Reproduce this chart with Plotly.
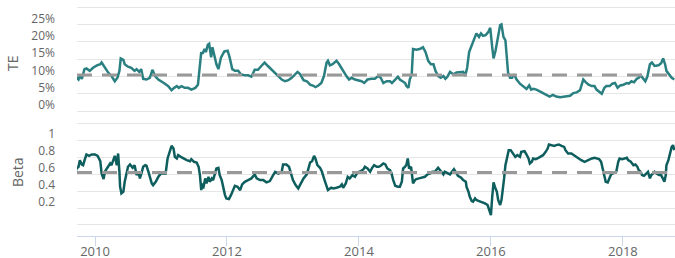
import plotly.graph_objects as go

te_years = [2009.70, 2009.75, 2009.77, 2009.80, 2009.84, 2009.87, 2009.92, 2009.97, 2010.03, 2010.08,
            2010.10, 2010.15, 2010.20, 2010.25, 2010.30, 2010.34, 2010.37, 2010.39, 2010.43, 2010.45,
            2010.50, 2010.55, 2010.60, 2010.63, 2010.67, 2010.70, 2010.73, 2010.78, 2010.83, 2010.87,
            2010.91, 2010.96, 2011.01, 2011.06, 2011.11, 2011.16, 2011.20, 2011.24, 2011.27, 2011.31,
            2011.36, 2011.41, 2011.46, 2011.52, 2011.56, 2011.58, 2011.61, 2011.63, 2011.66, 2011.68,
            2011.71, 2011.73, 2011.76, 2011.78, 2011.81, 2011.84, 2011.87, 2011.91, 2011.96, 2012.01,
            2012.04, 2012.08, 2012.12, 2012.17, 2012.21, 2012.27, 2012.32, 2012.37, 2012.42, 2012.47,
            2012.52, 2012.57, 2012.62, 2012.68, 2012.73, 2012.78, 2012.83, 2012.88, 2012.93, 2012.98,
            2013.03, 2013.07, 2013.11, 2013.16, 2013.21, 2013.26, 2013.31, 2013.34, 2013.38, 2013.43,
            2013.47, 2013.51, 2013.53, 2013.56, 2013.60, 2013.63, 2013.66, 2013.70, 2013.74, 2013.78,
            2013.81, 2013.85, 2013.89, 2013.94, 2013.99, 2014.04, 2014.08, 2014.13, 2014.19, 2014.24,
            2014.29, 2014.33, 2014.37, 2014.42, 2014.47, 2014.50, 2014.55, 2014.59, 2014.62, 2014.67,
            2014.70, 2014.72, 2014.75, 2014.77, 2014.80, 2014.82, 2014.87, 2014.92, 2014.97, 2015.01,
            2015.05, 2015.09, 2015.13, 2015.16, 2015.20, 2015.24, 2015.28, 2015.31, 2015.34, 2015.38,
            2015.43, 2015.48, 2015.53, 2015.58, 2015.61, 2015.64, 2015.67, 2015.71, 2015.75, 2015.78,
            2015.82, 2015.85, 2015.88, 2015.92, 2015.96, 2015.99, 2016.02, 2016.04, 2016.07, 2016.11,
            2016.14, 2016.16, 2016.19, 2016.22, 2016.24, 2016.26, 2016.29, 2016.32, 2016.35, 2016.39,
            2016.44, 2016.49, 2016.54, 2016.58, 2016.61, 2016.64, 2016.69, 2016.74, 2016.79, 2016.84,
            2016.89, 2016.94, 2016.99, 2017.05, 2017.10, 2017.15, 2017.20, 2017.25, 2017.30, 2017.35,
            2017.37, 2017.40, 2017.44, 2017.48, 2017.53, 2017.57, 2017.60, 2017.64, 2017.68, 2017.72,
            2017.75, 2017.80, 2017.84, 2017.88, 2017.92, 2017.96, 2018.01, 2018.06, 2018.09, 2018.13,
            2018.17, 2018.21, 2018.24, 2018.27, 2018.31, 2018.34, 2018.37, 2018.41, 2018.44, 2018.48,
            2018.54, 2018.58, 2018.61, 2018.64, 2018.66, 2018.70, 2018.74, 2018.78]
te_values = [10.1, 9.1, 10.1, 9.3, 12.1, 12.3, 11.6, 12.5, 13.2, 13.5,
             14.0, 12.5, 11.1, 10.1, 8.6, 9.6, 11.6, 15.2, 14.8, 13.5,
             12.8, 12.5, 11.6, 12.1, 11.3, 12.1, 9.3, 9.1, 9.6, 11.9,
             10.1, 9.1, 8.6, 7.9, 7.2, 6.0, 6.7, 7.2, 6.7, 7.2,
             6.7, 6.7, 6.2, 6.7, 7.6, 12.1, 17.0, 16.5, 17.9, 17.0,
             19.1, 19.4, 15.5, 18.4, 16.0, 13.5, 12.1, 15.5, 17.2, 17.4,
             15.5, 12.1, 11.6, 11.6, 10.6, 10.3, 10.3, 9.9, 11.9, 11.9,
             13.0, 14.0, 13.0, 11.9, 11.1, 10.1, 9.1, 8.6, 8.9, 9.6,
             10.6, 11.3, 10.6, 8.9, 8.6, 7.6, 7.3, 6.9, 7.3, 8.1,
             10.1, 14.0, 14.5, 13.2, 13.5, 14.0, 14.5, 13.5, 12.1, 11.1,
             10.1, 9.1, 9.6, 9.1, 8.9, 8.6, 8.1, 9.1, 9.3, 9.3,
             10.1, 9.6, 8.1, 8.6, 8.6, 8.1, 9.1, 9.9, 9.1, 8.6,
             8.1, 7.2, 6.7, 9.1, 10.6, 17.9, 17.7, 17.9, 18.4, 17.0,
             14.5, 13.5, 13.5, 11.6, 10.1, 9.6, 10.1, 9.3, 9.9, 11.3,
             10.6, 11.1, 11.1, 11.3, 10.1, 12.5, 17.0, 18.9, 20.4, 22.4,
             21.4, 22.4, 21.7, 21.9, 22.8, 24.0, 18.4, 15.2, 17.4, 22.4,
             24.8, 25.0, 21.4, 20.4, 15.0, 11.1, 9.6, 9.6, 10.6, 9.1,
             7.9, 7.2, 6.4, 7.4, 6.2, 6.4, 6.2, 5.7, 5.2, 4.7,
             4.2, 4.7, 4.2, 4.0, 4.2, 4.4, 4.4, 5.2, 5.4, 6.0,
             7.6, 9.1, 8.3, 7.6, 7.2, 7.2, 6.2, 5.7, 5.0, 6.7,
             7.2, 7.2, 7.9, 8.1, 6.7, 7.4, 7.6, 8.1, 7.9, 8.6,
             8.3, 9.3, 9.6, 10.3, 9.3, 8.6, 9.9, 13.5, 14.0, 13.0,
             13.2, 13.8, 15.2, 13.5, 11.6, 10.6, 9.6, 9.1]

beta_years = [2009.70, 2009.72, 2009.75, 2009.77, 2009.80, 2009.82, 2009.85, 2009.87, 2009.91, 2009.95,
              2010.00, 2010.04, 2010.08, 2010.10, 2010.13, 2010.15, 2010.18, 2010.20, 2010.23, 2010.25,
              2010.28, 2010.30, 2010.33, 2010.35, 2010.37, 2010.38, 2010.40, 2010.43, 2010.45, 2010.48,
              2010.50, 2010.53, 2010.57, 2010.60, 2010.63, 2010.66, 2010.68, 2010.71, 2010.73, 2010.76,
              2010.78, 2010.81, 2010.83, 2010.86, 2010.88, 2010.92, 2010.96, 2011.00, 2011.04, 2011.07,
              2011.10, 2011.14, 2011.16, 2011.19, 2011.21, 2011.24, 2011.26, 2011.30, 2011.34, 2011.39,
              2011.44, 2011.46, 2011.50, 2011.54, 2011.57, 2011.59, 2011.61, 2011.63, 2011.64, 2011.67,
              2011.69, 2011.72, 2011.74, 2011.77, 2011.79, 2011.82, 2011.84, 2011.87, 2011.89, 2011.92,
              2011.94, 2011.97, 2011.99, 2012.03, 2012.06, 2012.10, 2012.12, 2012.16, 2012.20, 2012.23,
              2012.27, 2012.32, 2012.37, 2012.42, 2012.45, 2012.50, 2012.55, 2012.60, 2012.65, 2012.70,
              2012.73, 2012.78, 2012.83, 2012.85, 2012.90, 2012.94, 2012.97, 2013.00, 2013.04, 2013.08,
              2013.12, 2013.16, 2013.21, 2013.23, 2013.26, 2013.29, 2013.32, 2013.34, 2013.37, 2013.41,
              2013.44, 2013.47, 2013.51, 2013.53, 2013.58, 2013.61, 2013.66, 2013.71, 2013.74, 2013.76,
              2013.80, 2013.83, 2013.86, 2013.90, 2013.94, 2013.96, 2014.00, 2014.03, 2014.07, 2014.09,
              2014.13, 2014.17, 2014.20, 2014.23, 2014.27, 2014.30, 2014.33, 2014.37, 2014.40, 2014.43,
              2014.47, 2014.49, 2014.52, 2014.55, 2014.59, 2014.62, 2014.65, 2014.67, 2014.70, 2014.72,
              2014.74, 2014.76, 2014.79, 2014.81, 2014.82, 2014.85, 2014.87, 2014.91, 2014.95, 2015.00,
              2015.04, 2015.08, 2015.11, 2015.15, 2015.20, 2015.23, 2015.25, 2015.28, 2015.30, 2015.34,
              2015.38, 2015.41, 2015.44, 2015.48, 2015.50, 2015.55, 2015.58, 2015.62, 2015.63, 2015.66,
              2015.68, 2015.71, 2015.73, 2015.76, 2015.78, 2015.82, 2015.85, 2015.88, 2015.91, 2015.95,
              2015.99, 2016.00, 2016.02, 2016.04, 2016.06, 2016.09, 2016.11, 2016.14, 2016.16, 2016.19,
              2016.20, 2016.22, 2016.25, 2016.27, 2016.30, 2016.34, 2016.37, 2016.40, 2016.44, 2016.46,
              2016.51, 2016.54, 2016.57, 2016.59, 2016.62, 2016.64, 2016.68, 2016.72, 2016.76, 2016.79,
              2016.83, 2016.86, 2016.88, 2016.92, 2016.96, 2016.99, 2017.03, 2017.07, 2017.11, 2017.13,
              2017.17, 2017.22, 2017.27, 2017.32, 2017.37, 2017.42, 2017.47, 2017.53, 2017.57, 2017.60,
              2017.64, 2017.67, 2017.69, 2017.72, 2017.74, 2017.77, 2017.79, 2017.82, 2017.85, 2017.90,
              2017.93, 2017.95, 2017.99, 2018.02, 2018.06, 2018.08, 2018.12, 2018.16, 2018.19, 2018.22,
              2018.24, 2018.27, 2018.29, 2018.32, 2018.36, 2018.38, 2018.41, 2018.43, 2018.46, 2018.48,
              2018.51, 2018.55, 2018.58, 2018.61, 2018.63, 2018.65, 2018.66, 2018.69, 2018.71, 2018.74,
              2018.76, 2018.78]
beta_values = [0.607, 0.666, 0.686, 0.764, 0.713, 0.705, 0.784, 0.831, 0.815, 0.831,
               0.831, 0.815, 0.752, 0.607, 0.541, 0.627, 0.666, 0.686, 0.725, 0.705,
               0.784, 0.815, 0.705, 0.843, 0.627, 0.451, 0.372, 0.392, 0.509, 0.627,
               0.686, 0.713, 0.674, 0.705, 0.588, 0.627, 0.549, 0.627, 0.686, 0.705,
               0.698, 0.627, 0.568, 0.490, 0.470, 0.509, 0.568, 0.607, 0.607, 0.607,
               0.784, 0.901, 0.933, 0.901, 0.803, 0.784, 0.823, 0.803, 0.784, 0.764,
               0.752, 0.776, 0.745, 0.737, 0.686, 0.588, 0.411, 0.490, 0.431, 0.549,
               0.490, 0.568, 0.509, 0.549, 0.529, 0.627, 0.666, 0.674, 0.588, 0.529,
               0.451, 0.352, 0.313, 0.305, 0.352, 0.431, 0.462, 0.451, 0.411, 0.478,
               0.509, 0.529, 0.549, 0.596, 0.549, 0.529, 0.529, 0.502, 0.517, 0.588,
               0.627, 0.607, 0.627, 0.713, 0.713, 0.686, 0.607, 0.529, 0.470, 0.431,
               0.490, 0.549, 0.596, 0.666, 0.737, 0.752, 0.815, 0.784, 0.705, 0.674,
               0.627, 0.549, 0.451, 0.411, 0.439, 0.431, 0.439, 0.451, 0.478, 0.439,
               0.490, 0.568, 0.549, 0.588, 0.568, 0.596, 0.627, 0.635, 0.658, 0.686,
               0.666, 0.627, 0.674, 0.705, 0.686, 0.686, 0.698, 0.725, 0.713, 0.666,
               0.647, 0.619, 0.529, 0.462, 0.451, 0.451, 0.509, 0.666, 0.686, 0.713,
               0.784, 0.666, 0.686, 0.588, 0.490, 0.529, 0.541, 0.549, 0.556, 0.568,
               0.596, 0.607, 0.627, 0.627, 0.674, 0.647, 0.627, 0.596, 0.627, 0.607,
               0.596, 0.627, 0.658, 0.607, 0.580, 0.556, 0.529, 0.509, 0.451, 0.392,
               0.333, 0.282, 0.274, 0.313, 0.294, 0.282, 0.274, 0.266, 0.254, 0.235,
               0.149, 0.117, 0.333, 0.502, 0.451, 0.392, 0.294, 0.235, 0.294, 0.451,
               0.549, 0.705, 0.823, 0.882, 0.882, 0.831, 0.803, 0.823, 0.803, 0.862,
               0.870, 0.831, 0.784, 0.725, 0.745, 0.784, 0.776, 0.792, 0.815, 0.823,
               0.862, 0.901, 0.949, 0.941, 0.933, 0.941, 0.949, 0.933, 0.921, 0.882,
               0.843, 0.843, 0.815, 0.784, 0.764, 0.745, 0.764, 0.784, 0.792, 0.784,
               0.776, 0.745, 0.666, 0.568, 0.509, 0.502, 0.549, 0.596, 0.607, 0.627,
               0.745, 0.784, 0.776, 0.784, 0.792, 0.764, 0.745, 0.705, 0.713, 0.686,
               0.647, 0.627, 0.588, 0.580, 0.607, 0.627, 0.549, 0.588, 0.607, 0.627,
               0.607, 0.588, 0.588, 0.549, 0.509, 0.588, 0.705, 0.764, 0.843, 0.921,
               0.941, 0.882]

te_mean = 10.4
beta_mean = 0.62
x_ticks = [2010, 2012, 2014, 2016, 2018]
te_ticks = [0, 5, 10, 15, 20, 25, 30]
te_ticktext = ["0%", "5%", "10%", "15%", "20%", "25%", ""]
beta_ticks = [0, 0.2, 0.4, 0.6, 0.8, 1.0, 1.2]
beta_ticktext = ["", "0.2", "0.4", "0.6", "0.8", "1", ""]

x_range = [2009.727, 2018.79]
FONT = "Open Sans, sans-serif"
LABEL = "#666666"
GRID = "#e6e6e6"

fig = go.Figure()
fig.add_trace(go.Scatter(x=te_years, y=te_values, mode="lines", xaxis="x", yaxis="y",
                         line=dict(color="#2a7f80", width=2.5), showlegend=False))
fig.add_trace(go.Scatter(x=x_range, y=[te_mean, te_mean], mode="lines", xaxis="x", yaxis="y",
                         line=dict(color="#999999", width=3, dash="15px,10px"), showlegend=False))
fig.add_trace(go.Scatter(x=beta_years, y=beta_values, mode="lines", xaxis="x2", yaxis="y2",
                         line=dict(color="#0f5e5e", width=2.5), showlegend=False))
fig.add_trace(go.Scatter(x=x_range, y=[beta_mean, beta_mean], mode="lines", xaxis="x2", yaxis="y2",
                         line=dict(color="#999999", width=3, dash="15px,10px"), showlegend=False))

yax_common = dict(showgrid=True, gridcolor=GRID, gridwidth=1, zeroline=False, showline=False,
                  ticks="", tickmode="array", automargin=False,
                  ticklabelshift=-6, ticklabelstandoff=21,
                  tickfont=dict(family=FONT, size=12, color=LABEL))

fig.update_layout(
    width=675, height=258,
    margin=dict(l=77, r=0, t=6, b=22, autoexpand=False),
    paper_bgcolor="white", plot_bgcolor="white",
    font=dict(family=FONT, color=LABEL),
    xaxis=dict(domain=[0, 1], anchor="y", range=x_range, showgrid=False, zeroline=False,
               showticklabels=False, showline=False, ticks="", automargin=False),
    xaxis2=dict(domain=[0, 1], anchor="y2", range=x_range, showgrid=False, zeroline=False,
                tickmode="array", tickvals=x_ticks, ticktext=[str(v) for v in x_ticks],
                showline=True, linecolor="#ccd6eb", linewidth=1, automargin=False,
                ticks="outside", ticklen=9, tickcolor="#ccd6eb", tickwidth=1,
                ticklabelstandoff=-6,
                tickfont=dict(family=FONT, size=13, color=LABEL)),
    yaxis=dict(domain=[0.528, 1], anchor="x", range=[-1.0, 30.3],
               tickvals=te_ticks, ticktext=te_ticktext, **yax_common),
    yaxis2=dict(domain=[0, 0.496], anchor="x2", range=[-0.13, 1.215],
                tickvals=beta_ticks, ticktext=beta_ticktext, **yax_common),
    annotations=[
        dict(text="TE", xref="paper", yref="paper", x=-0.1087, y=0.752, textangle=-90,
             xanchor="center", yanchor="middle",
             showarrow=False, font=dict(family=FONT, size=14, color=LABEL)),
        dict(text="Beta", xref="paper", yref="paper", x=-0.1003, y=0.278, textangle=-90,
             xanchor="center", yanchor="middle",
             showarrow=False, font=dict(family=FONT, size=14, color=LABEL)),
    ],
)

fig.write_html("out.html", config={"displayModeBar": False},
               post_script="document.body.style.margin='0';document.body.style.padding='0';")
